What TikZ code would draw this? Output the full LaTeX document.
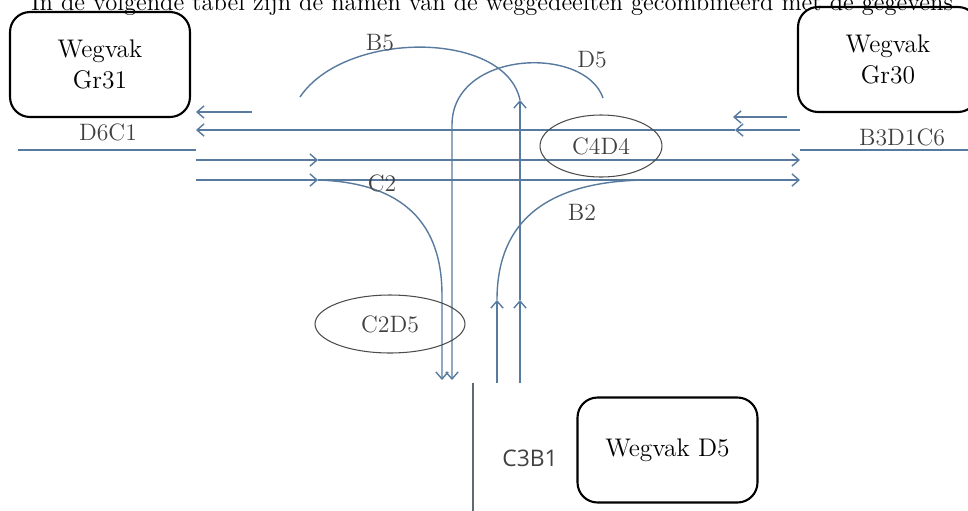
\documentclass[tikz,border=0pt]{standalone}
\usepackage{fontspec}
\newfontfamily\labelsans{Open Sans}
\usepackage{tikz}
\usetikzlibrary{positioning,arrows.meta,shapes.geometric}
\usepackage{xcolor}
\definecolor{roadblue}{RGB}{88,122,158}
\definecolor{roadgrey}{RGB}{95,105,115}

\begin{document}
\begin{tikzpicture}[
        x=0.02cm, y=-0.02cm,
        wegvak/.style={rectangle, draw, line width=1.2pt, rounded corners=0.4cm, minimum width=3.6cm, minimum height=2.1cm, align=center, font=\fontsize{14.5}{18}\selectfont},
        ring/.style={ellipse, draw=black!70, line width=0.6pt, inner sep=0pt, font=\fontsize{13.5}{15}\selectfont, text=black!75},
        lbl/.style={font=\fontsize{13.5}{15}\selectfont, text=black!75},
        road/.style={draw=roadblue, line width=0.8pt},
        arrow/.style={road, ->, >={Straight Barb[length=4pt,width=7pt]}}
    ]
        \useasboundingbox (0,0) rectangle (968,511);

        % Heading, cut off at the top
        \node[anchor=base, font=\fontsize{14}{16}\selectfont] (kop) at (492,10) {In de volgende tabel zijn de namen van de weggedeelten gecombineerd met de gegevens};

        % Road sections
        \node[wegvak] (gr31) at (100,64.5) {Wegvak\\Gr31};
        \node[wegvak] (gr30) at (888,59.5) {Wegvak\\Gr30};
        \node[wegvak] (d5box) at (667.5,450) {Wegvak D5};

        % Junction points
        \coordinate (wl1) at (18,150);   \coordinate (wl2) at (196,150);
        \coordinate (wr1) at (800,150);  \coordinate (wr2) at (968,150);
        \coordinate (l1) at (196,112);   \coordinate (l1e) at (252,112);
        \coordinate (l3) at (196,130);   \coordinate (r3) at (735,130);   \coordinate (r3e) at (800,130);
        \coordinate (r2) at (733,117);   \coordinate (r2e) at (787,117);
        \coordinate (l4) at (196,160);   \coordinate (m4) at (318,160);   \coordinate (r4) at (800,160);
        \coordinate (l5) at (196,180);   \coordinate (m5) at (318,180);   \coordinate (r5) at (800,180);
        \coordinate (c2bocht) at (442,295); \coordinate (c2end) at (442,380);
        \coordinate (v1top) at (452,125);   \coordinate (v1end) at (452,380);
        \coordinate (v2bot) at (520,383);   \coordinate (v2mid) at (520,300);   \coordinate (v2top) at (520,100);
        \coordinate (v3bot) at (497,383);   \coordinate (v3mid) at (497,300);   \coordinate (b2end) at (650,180);
        \coordinate (b5end) at (300,97);
        \coordinate (d5end) at (603,98);
        \coordinate (zuid1) at (473,383);   \coordinate (zuid2) at (473,511);

        % Road edges
        \draw[road] (wl1) -- (wl2);
        \draw[road] (wr1) -- (wr2);
        \draw[draw=roadgrey, line width=0.8pt] (zuid1) -- (zuid2);

        % Westbound
        \draw[arrow] (l1e) -- (l1);
        \draw[arrow] (r3e) -- (r3);
        \draw[arrow] (r3) -- (l3);
        \draw[arrow] (r2e) -- (r2);

        % Eastbound
        \draw[arrow] (l4) -- (m4);
        \draw[arrow] (m4) -- (r4);
        \draw[arrow] (l5) -- (m5);
        \draw[arrow] (m5) -- (r5);

        % Turns
        \draw[arrow] (m5) .. controls (415,183) and (442,235) .. (c2bocht) -- (c2end);
        \draw[arrow] (d5end) .. controls (585,45) and (452,50) .. (v1top) -- (v1end);
        \draw[arrow] (v2bot) -- (v2mid);
        \draw[arrow] (v2mid) -- (v2top);
        \draw[road] (v2top) .. controls (505,30) and (345,30) .. (b5end);
        \draw[arrow] (v3bot) -- (v3mid);
        \draw[road] (v3mid) .. controls (497,215) and (555,180) .. (b2end);

        % Conflict zones
        \node[ring, minimum width=2.44cm, minimum height=1.24cm] (c4d4) at (601,146) {C4D4};
        \node[ring, minimum width=3.0cm, minimum height=1.16cm] (c2d5) at (390,324) {C2D5};

        % Labels
        \node[lbl] (b5) at (380,43) {B5};
        \node[lbl] (d5) at (592,60) {D5};
        \node[lbl] (c2) at (382,183) {C2};
        \node[lbl] (b2) at (582,212) {B2};
        \node[lbl] (d6c1) at (108,132) {D6C1};
        \node[lbl] (b3d1c6) at (902,137) {B3D1C6};
        \node[lbl, font=\labelsans\fontsize{13}{15}\selectfont] (c3b1) at (530,458) {C3B1};
    \end{tikzpicture}
\end{document}
